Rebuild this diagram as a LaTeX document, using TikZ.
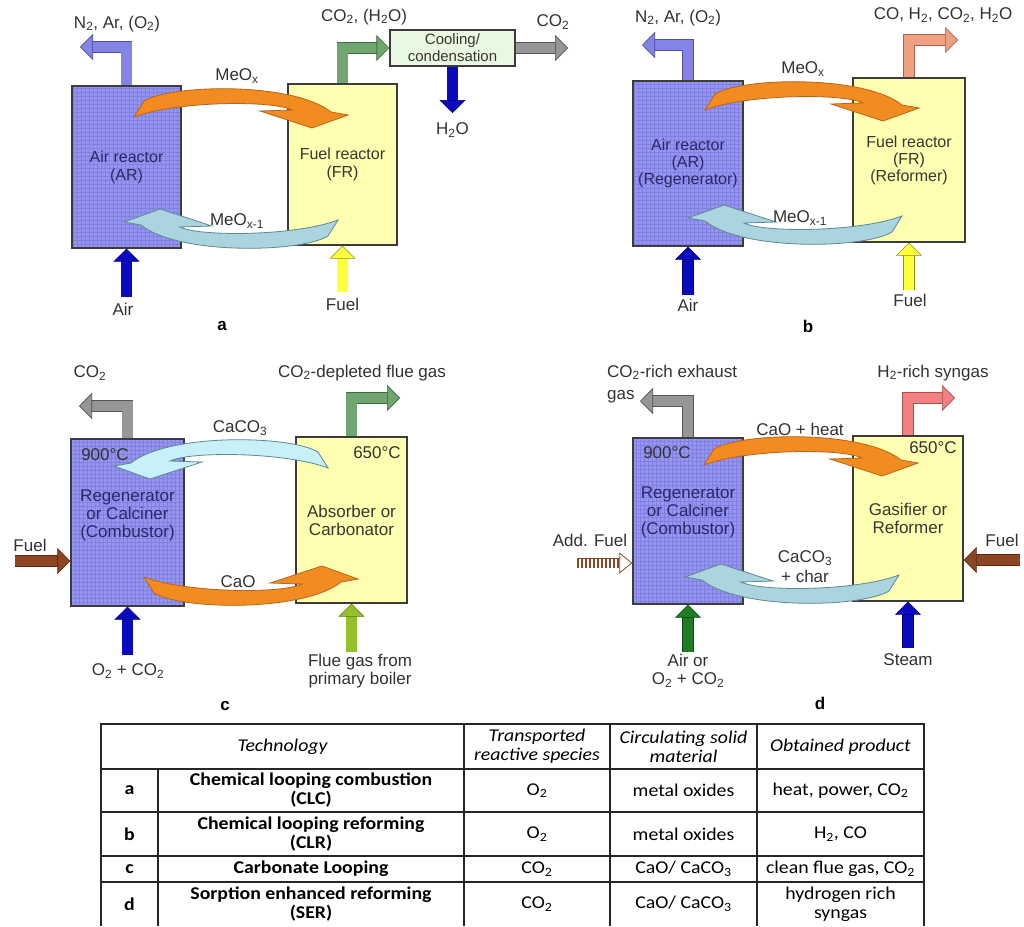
\documentclass[tikz,border=0pt]{standalone}
\usepackage{fontspec}
\setmainfont{Liberation Sans}
\newfontfamily\tabfont{Carlito}[FakeStretch=1.1]
\usetikzlibrary{arrows.meta}

\newcommand{\sbs}[1]{\textsubscript{#1}}

\definecolor{arfill}{RGB}{150,150,240}
\definecolor{argrid}{RGB}{128,128,224}
\definecolor{frfill}{RGB}{255,255,178}
\definecolor{boxline}{RGB}{60,60,60}
\definecolor{artext}{RGB}{40,40,105}
\definecolor{frtext}{RGB}{55,55,45}
\definecolor{labtext}{RGB}{50,50,50}
\definecolor{coolfill}{RGB}{232,248,226}
\definecolor{orangeA}{RGB}{242,140,32}
\definecolor{orangeL}{RGB}{185,100,25}
\definecolor{cyanA}{RGB}{170,212,222}
\definecolor{cyanB}{RGB}{200,240,248}
\definecolor{cyanL}{RGB}{95,135,148}
\definecolor{lilac}{RGB}{132,132,228}
\definecolor{lilacL}{RGB}{78,78,170}
\definecolor{greenA}{RGB}{112,165,112}
\definecolor{greenL}{RGB}{60,108,60}
\definecolor{grayA}{RGB}{150,150,150}
\definecolor{grayL}{RGB}{85,85,85}
\definecolor{navy}{RGB}{10,10,190}
\definecolor{navyL}{RGB}{0,0,110}
\definecolor{yellowA}{RGB}{255,255,60}
\definecolor{yellowL}{RGB}{140,140,40}
\definecolor{salmon}{RGB}{240,160,130}
\definecolor{salmonL}{RGB}{170,100,80}
\definecolor{pinkA}{RGB}{242,128,128}
\definecolor{pinkL}{RGB}{170,80,80}
\definecolor{brownA}{RGB}{140,70,35}
\definecolor{brownL}{RGB}{90,40,15}
\definecolor{limeA}{RGB}{150,192,40}
\definecolor{limeL}{RGB}{90,120,20}
\definecolor{forest}{RGB}{30,125,35}
\definecolor{forestL}{RGB}{15,70,20}

\begin{document}
\begin{tikzpicture}[
        x=1pt, y=-1pt,
        reactor/.style={rectangle, draw=boxline, line width=1.2pt, align=center, inner sep=0pt},
        airbox/.style={reactor, fill=arfill, text=artext, path picture={\draw[argrid, line width=0.35pt] (path picture bounding box.south west) grid[step=4pt] (path picture bounding box.north east);}},
        fuelbox/.style={reactor, fill=frfill, text=frtext},
        coolbox/.style={reactor, fill=coolfill, text=frtext, font=\fontsize{15}{17}\selectfont},
        pipe/.style 2 args={line width=10.5pt, draw=#1, -{Triangle[length=13pt, width=26pt, line width=0.6pt, color=#2, fill=#1]}, preaction={draw=#2, line width=11.9pt, arrows=-, shorten >=10pt}},
        stripepipe/.style={line width=9pt, draw=brownA, dash pattern=on 2.4pt off 1.6pt, -{Triangle[length=13pt, width=21pt, line width=0.8pt, color=brownA, fill=white]}, preaction={draw=brownA, solid, line width=10.6pt, arrows=-, shorten >=11pt}, preaction={draw=white, solid, line width=9pt, arrows=-, shorten >=11pt}},
        lab/.style={text=labtext, align=center, inner sep=0pt, font=\fontsize{17}{18}\selectfont},
        tag/.style={inner sep=0pt, font=\bfseries\fontsize{17}{18}\selectfont},
        cell/.style={inner sep=0pt, align=center, font=\tabfont\fontsize{18}{19}\selectfont},
        hcell/.style={cell, font=\tabfont\itshape\fontsize{18}{19}\selectfont},
        bcell/.style={cell, font=\tabfont\bfseries\fontsize{18}{19}\selectfont},
        tabline/.style={draw=black!85, line width=1.1pt},
        cyclearrow/.pic={\path[pic actions, line width=0.8pt] (0,0) -- (10,-16) .. controls (38,-33) and (160,-35) .. (197,-5) -- (214,-2) -- (178,11) -- (126,-6) -- (158,-7) .. controls (138,-17) and (42,-16) .. (0,0) -- cycle;}
    ]
        \fill[white] (0,0) rectangle (1024,926);
        \useasboundingbox (0,0) rectangle (1024,926);

        % Panel a
        \node[airbox, minimum width=109pt, minimum height=162pt, font=\fontsize{16}{18}\selectfont] (ARa) at (126.5,167) {Air reactor\\(AR)};
        \node[fuelbox, minimum width=109pt, minimum height=161pt, font=\fontsize{16}{18}\selectfont] (FRa) at (342.5,164.5) {Fuel reactor\\(FR)};
        \node[coolbox, minimum width=125pt, minimum height=36pt] (cool) at (452.5,48) {Cooling/\\condensation};

        \coordinate (n2a) at (80,47);
        \coordinate (co2a) at (568,48);
        \coordinate (h2oa) at (452.5,113);
        \coordinate (aira) at (126.5,297);
        \coordinate (fuela) at (342.5,292);

        \draw[pipe={lilac}{lilacL}] (ARa.north) |- (n2a);
        \draw[pipe={greenA}{greenL}] (FRa.north) |- (cool.west);
        \draw[pipe={grayA}{grayL}] (cool.east) -- (co2a);
        \draw[pipe={navy}{navyL}] (cool.south) -- (h2oa);
        \draw[pipe={navy}{navyL}] (aira) -- (ARa.south);
        \draw[pipe={yellowA}{yellowL}] (fuela) -- (FRa.south);
        \pic[fill=orangeA, draw=orangeL] at (134,117) {cyclearrow};
        \pic[fill=cyanA, draw=cyanL, rotate=180] at (338,220) {cyclearrow};

        \node[lab] (n2alab) at (117,24) {N\sbs{2}, Ar, (O\sbs{2})};
        \node[lab] (fgalab) at (364,17) {CO\sbs{2}, (H\sbs{2}O)};
        \node[lab] (co2alab) at (553,22) {CO\sbs{2}};
        \node[lab] (h2oalab) at (452.5,130) {H\sbs{2}O};
        \node[lab] (oxalab) at (237,76) {MeO\sbs{x}};
        \node[lab] (redalab) at (237,221) {MeO\sbs{x-1}};
        \node[lab] (airalab) at (123,309) {Air};
        \node[lab] (fuelalab) at (342.5,304) {Fuel};
        \node[tag] (taga) at (222,326) {a};

        % Panel b
        \node[airbox, minimum width=110pt, minimum height=165pt, font=\fontsize{16}{17}\selectfont] (ARb) at (688,163.5) {Air reactor\\(AR)\\(Regenerator)};
        \node[fuelbox, minimum width=112pt, minimum height=164pt, font=\fontsize{16}{17}\selectfont] (FRb) at (909,160) {Fuel reactor\\(FR)\\(Reformer)};

        \coordinate (n2b) at (642,45);
        \coordinate (synb) at (958,40);
        \coordinate (airb) at (688,295);
        \coordinate (fuelb) at (909,290);

        \draw[pipe={lilac}{lilacL}] (ARb.north) |- (n2b);
        \draw[pipe={salmon}{salmonL}] (FRb.north) |- (synb);
        \draw[pipe={navy}{navyL}] (airb) -- (ARb.south);
        \draw[pipe={yellowA}{yellowL}] (fuelb) -- (FRb.south);
        \pic[fill=orangeA, draw=orangeL] at (705,110) {cyclearrow};
        \pic[fill=cyanA, draw=cyanL, rotate=180] at (902,216) {cyclearrow};

        \node[lab] (n2blab) at (678,18) {N\sbs{2}, Ar, (O\sbs{2})};
        \node[lab] (synblab) at (943,15) {CO, H\sbs{2}, CO\sbs{2}, H\sbs{2}O};
        \node[lab] (oxblab) at (803,69) {MeO\sbs{x}};
        \node[lab] (redblab) at (800,218) {MeO\sbs{x-1}};
        \node[lab] (airblab) at (688,305) {Air};
        \node[lab] (fuelblab) at (910,300) {Fuel};
        \node[tag] (tagb) at (808,326) {b};

        % Panel c
        \node[airbox, minimum width=113pt, minimum height=167pt] (REGc) at (127.5,522.5) {};
        \node[lab, text=artext] (REGctxt) at (127.5,515) {Regenerator\\or Calciner\\(Combustor)};
        \node[fuelbox, minimum width=111pt, minimum height=166pt, font=\fontsize{17}{18}\selectfont] (ABSc) at (351.5,520) {Absorber or\\Carbonator};

        \coordinate (co2c) at (79,406);
        \coordinate (fluec) at (400,398);
        \coordinate (fuelc) at (15,561);
        \coordinate (o2c) at (127.5,655);
        \coordinate (boilc) at (351.5,652);

        \draw[pipe={grayA}{grayL}] (REGc.north) |- (co2c);
        \draw[pipe={greenA}{greenL}] (ABSc.north) |- (fluec);
        \draw[pipe={brownA}{brownL}] (fuelc) -- (fuelc -| REGc.west);
        \draw[pipe={navy}{navyL}] (o2c) -- (REGc.south);
        \draw[pipe={limeA}{limeL}] (boilc) -- (ABSc.south);
        \pic[fill=cyanB, draw=cyanL, xscale=-1] at (328,468) {cyclearrow};
        \pic[fill=orangeA, draw=orangeL, yscale=-1] at (144,577) {cyclearrow};

        \node[lab] (co2clab) at (90,373) {CO\sbs{2}};
        \node[lab] (fluelab) at (362,373) {CO\sbs{2}-depleted flue gas};
        \node[lab] (hotc) at (105,455) {900°C};
        \node[lab] (warmc) at (377,453) {650°C};
        \node[lab] (carbclab) at (240,428) {CaCO\sbs{3}};
        \node[lab] (caoclab) at (238,582) {CaO};
        \node[lab] (fuelclab) at (30,545) {Fuel};
        \node[lab] (o2clab) at (128,671) {O\sbs{2} + CO\sbs{2}};
        \node[lab] (boilclab) at (360,671) {Flue gas from\\primary boiler};
        \node[tag] (tagc) at (225,706) {c};

        % Panel d
        \node[airbox, minimum width=110pt, minimum height=166pt] (REGd) at (688,521) {};
        \node[lab, text=artext] (REGdtxt) at (688,512) {Regenerator\\or Calciner\\(Combustor)};
        \node[fuelbox, minimum width=110pt, minimum height=165pt, font=\fontsize{17}{18}\selectfont] (GASd) at (908,518.5) {Gasifier or\\Reformer};

        \coordinate (exhd) at (640,401);
        \coordinate (synd) at (955,398);
        \coordinate (addd) at (577,563);
        \coordinate (fueld) at (1020,560);
        \coordinate (aird) at (688,652);
        \coordinate (steamd) at (908,648);

        \draw[pipe={grayA}{grayL}] (REGd.north) |- (exhd);
        \draw[pipe={pinkA}{pinkL}] (GASd.north) |- (synd);
        \draw[stripepipe] (addd) -- (addd -| REGd.west);
        \draw[pipe={brownA}{brownL}] (fueld) -- (fueld -| GASd.east);
        \draw[pipe={forest}{forestL}] (aird) -- (REGd.south);
        \draw[pipe={navy}{navyL}] (steamd) -- (GASd.south);
        \pic[fill=orangeA, draw=orangeL] at (704,465) {cyclearrow};
        \pic[fill=cyanA, draw=cyanL, rotate=180] at (899,575) {cyclearrow};

        \node[lab, anchor=west, align=left, font=\fontsize{17}{22}\selectfont] (exhdlab) at (607,384) {CO\sbs{2}-rich exhaust\\gas};
        \node[lab] (syndlab) at (933,373) {H\sbs{2}-rich syngas};
        \node[lab] (hotd) at (667,453) {900°C};
        \node[lab] (warmd) at (933,448) {650°C};
        \node[lab] (caodlab) at (800,429) {CaO + heat};
        \node[lab, font=\fontsize{17}{20}\selectfont] (carbdlab) at (805,567) {CaCO\sbs{3}\\+ char};
        \node[lab] (adddlab) at (590,540) {Add. Fuel};
        \node[lab] (fueldlab) at (1002,540) {Fuel};
        \node[lab] (airdlab) at (688,671) {Air or\\O\sbs{2} + CO\sbs{2}};
        \node[lab] (steamdlab) at (908,660) {Steam};
        \node[tag] (tagd) at (820,703) {d};

        % Tabla
        \draw[tabline] (101,926) -- (101,724) -- (924,724) -- (924,926);
        \draw[tabline] (101,769) -- (924,769);
        \draw[tabline] (101,812) -- (924,812);
        \draw[tabline] (101,856) -- (924,856);
        \draw[tabline] (101,882) -- (924,882);
        \draw[tabline] (158,769) -- (158,926);
        \draw[tabline] (464,724) -- (464,926);
        \draw[tabline] (610,724) -- (610,926);
        \draw[tabline] (757,724) -- (757,926);

        \node[hcell] (hTech) at (282.5,746.5) {Technology};
        \node[hcell] (hSpec) at (537,746.5) {Transported\\reactive species};
        \node[hcell] (hSolid) at (683.5,746.5) {Circulating solid\\material};
        \node[hcell] (hProd) at (840.5,746.5) {Obtained product};

        \node[bcell] (tagA) at (129.5,790.5) {a};
        \node[bcell] (techA) at (311,790.5) {Chemical looping combustion\\(CLC)};
        \node[cell] (specA) at (537,790.5) {O\sbs{2}};
        \node[cell] (solidA) at (683.5,790.5) {metal oxides};
        \node[cell] (prodA) at (840.5,790.5) {heat, power, CO\sbs{2}};

        \node[bcell] (tagB) at (129.5,834) {b};
        \node[bcell] (techB) at (311,834) {Chemical looping reforming\\(CLR)};
        \node[cell] (specB) at (537,834) {O\sbs{2}};
        \node[cell] (solidB) at (683.5,834) {metal oxides};
        \node[cell] (prodB) at (840.5,834) {H\sbs{2}, CO};

        \node[bcell] (tagC) at (129.5,869) {c};
        \node[bcell] (techC) at (311,869) {Carbonate Looping};
        \node[cell] (specC) at (537,869) {CO\sbs{2}};
        \node[cell] (solidC) at (683.5,869) {CaO/ CaCO\sbs{3}};
        \node[cell] (prodC) at (840.5,869) {clean flue gas, CO\sbs{2}};

        \node[bcell] (tagD) at (129.5,904) {d};
        \node[bcell] (techD) at (311,904) {Sorption enhanced reforming\\(SER)};
        \node[cell] (specD) at (537,904) {CO\sbs{2}};
        \node[cell] (solidD) at (683.5,904) {CaO/ CaCO\sbs{3}};
        \node[cell] (prodD) at (840.5,904) {hydrogen rich\\syngas};
    \end{tikzpicture}
\end{document}
